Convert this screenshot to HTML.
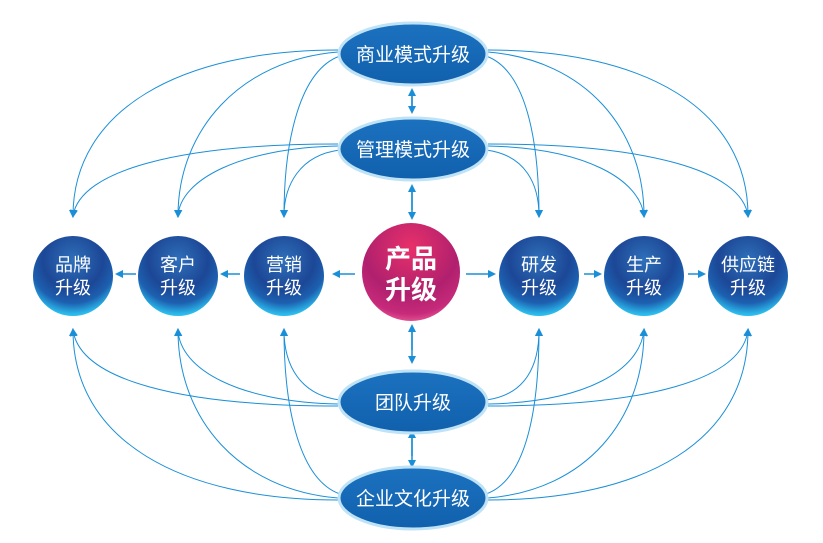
<!DOCTYPE html>
<html><head><meta charset="utf-8"><style>
html,body{margin:0;padding:0;background:#fff;}
svg{display:block}
text{font-family:"Liberation Sans","Noto Sans CJK SC",sans-serif;fill:#fff;text-anchor:middle}
</style></head><body>
<svg width="823" height="543" viewBox="0 0 823 543" xmlns="http://www.w3.org/2000/svg">
<defs>
<radialGradient id="bc" cx="50%" cy="30%" r="75%">
<stop offset="0" stop-color="#2f70ba"/><stop offset="0.5" stop-color="#1c4796"/><stop offset="0.72" stop-color="#1d60b0"/><stop offset="0.9" stop-color="#2bb8ea"/><stop offset="1" stop-color="#3fd0f5"/>
</radialGradient>
<radialGradient id="pc" cx="50%" cy="25%" r="80%">
<stop offset="0" stop-color="#e8306a"/><stop offset="0.6" stop-color="#b0206e"/><stop offset="0.85" stop-color="#c72a7a"/><stop offset="1" stop-color="#f06aa0"/>
</radialGradient>
<linearGradient id="eg" x1="0" y1="0" x2="0" y2="1">
<stop offset="0" stop-color="#1c72bf"/><stop offset="1" stop-color="#1060ad"/>
</linearGradient>
<marker id="a" markerWidth="8" markerHeight="8" refX="6" refY="4" orient="auto" markerUnits="userSpaceOnUse">
<path d="M0,0 L8,4 L0,8 Z" fill="#1a8fd8"/></marker>
</defs>
<g fill="none" stroke="#1a8fd8" stroke-width="1" marker-end="url(#a)">
<path d="M338,50 C180,50 73,110 73,216"/>
<path d="M338,52 C240,60 178,130 178,216"/>
<path d="M340,56 C300,70 284,140 284,216"/>
<path d="M338,144 C180,144 80,170 73,216"/>
<path d="M338,146 C240,148 180,180 178,216"/>
<path d="M340,150 C300,155 284,185 284,216"/>
<path d="M488,50 C646,50 748,110 748,216"/>
<path d="M488,52 C586,60 644,130 644,216"/>
<path d="M486,56 C526,70 539,140 539,216"/>
<path d="M488,144 C646,144 742,170 748,216"/>
<path d="M488,146 C586,148 640,180 644,216"/>
<path d="M486,150 C526,155 539,185 539,216"/>
<path d="M338,500 C180,500 73,440 73,330"/>
<path d="M338,498 C240,490 178,420 178,330"/>
<path d="M340,494 C300,480 284,410 284,330"/>
<path d="M338,406 C180,406 80,380 73,330"/>
<path d="M338,404 C240,402 180,370 178,330"/>
<path d="M340,400 C300,395 284,365 284,330"/>
<path d="M488,500 C646,500 748,440 748,330"/>
<path d="M488,498 C586,490 644,420 644,330"/>
<path d="M486,494 C526,480 539,410 539,330"/>
<path d="M488,406 C646,406 742,380 748,330"/>
<path d="M488,404 C586,402 640,370 644,330"/>
<path d="M486,400 C526,395 539,365 539,330"/>
</g>
<g stroke="#1a8fd8" stroke-width="1.5" fill="none">
<path d="M412,92 V112" marker-end="url(#a)"/><path d="M412,112 V90" marker-end="url(#a)"/>
<path d="M412,190 V218" marker-end="url(#a)"/><path d="M412,210 V186" marker-end="url(#a)"/>
<path d="M412,330 V362" marker-end="url(#a)"/><path d="M412,350 V326" marker-end="url(#a)"/>
<path d="M412,436 V466" marker-end="url(#a)"/><path d="M412,456 V432" marker-end="url(#a)"/>
<path d="M355,274 H334" marker-end="url(#a)"/>
<path d="M240,274 H222" marker-end="url(#a)"/>
<path d="M136,274 H117" marker-end="url(#a)"/>
<path d="M466,274 H494" marker-end="url(#a)"/>
<path d="M584,274 H600" marker-end="url(#a)"/>
<path d="M688,274 H704" marker-end="url(#a)"/>
</g>
<g stroke="#bfe3f6" stroke-width="3" fill="url(#eg)">
<ellipse cx="413" cy="54" rx="74" ry="31"/>
<ellipse cx="413" cy="149" rx="74" ry="31"/>
<ellipse cx="413" cy="402" rx="74" ry="31"/>
<ellipse cx="413" cy="498" rx="74" ry="31"/>
</g>
<g font-size="19">
<text x="413" y="61">商业模式升级</text>
<text x="413" y="156">管理模式升级</text>
<text x="413" y="409">团队升级</text>
<text x="413" y="505">企业文化升级</text>
</g>
<g fill="url(#bc)">
<circle cx="73" cy="276" r="40"/><circle cx="178" cy="276" r="40"/><circle cx="284" cy="276" r="40"/>
<circle cx="539" cy="276" r="40"/><circle cx="644" cy="276" r="40"/><circle cx="748" cy="276" r="40"/>
</g>
<circle cx="411" cy="272" r="49" fill="url(#pc)"/>
<g font-size="18">
<text x="73" y="271">品牌</text><text x="73" y="294">升级</text>
<text x="178" y="271">客户</text><text x="178" y="294">升级</text>
<text x="284" y="271">营销</text><text x="284" y="294">升级</text>
<text x="539" y="271">研发</text><text x="539" y="294">升级</text>
<text x="644" y="271">生产</text><text x="644" y="294">升级</text>
<text x="748" y="271">供应链</text><text x="748" y="294">升级</text>
</g>
<g font-size="26" font-weight="bold">
<text x="411" y="268">产品</text><text x="411" y="299">升级</text>
</g>
</svg>
</body></html>
